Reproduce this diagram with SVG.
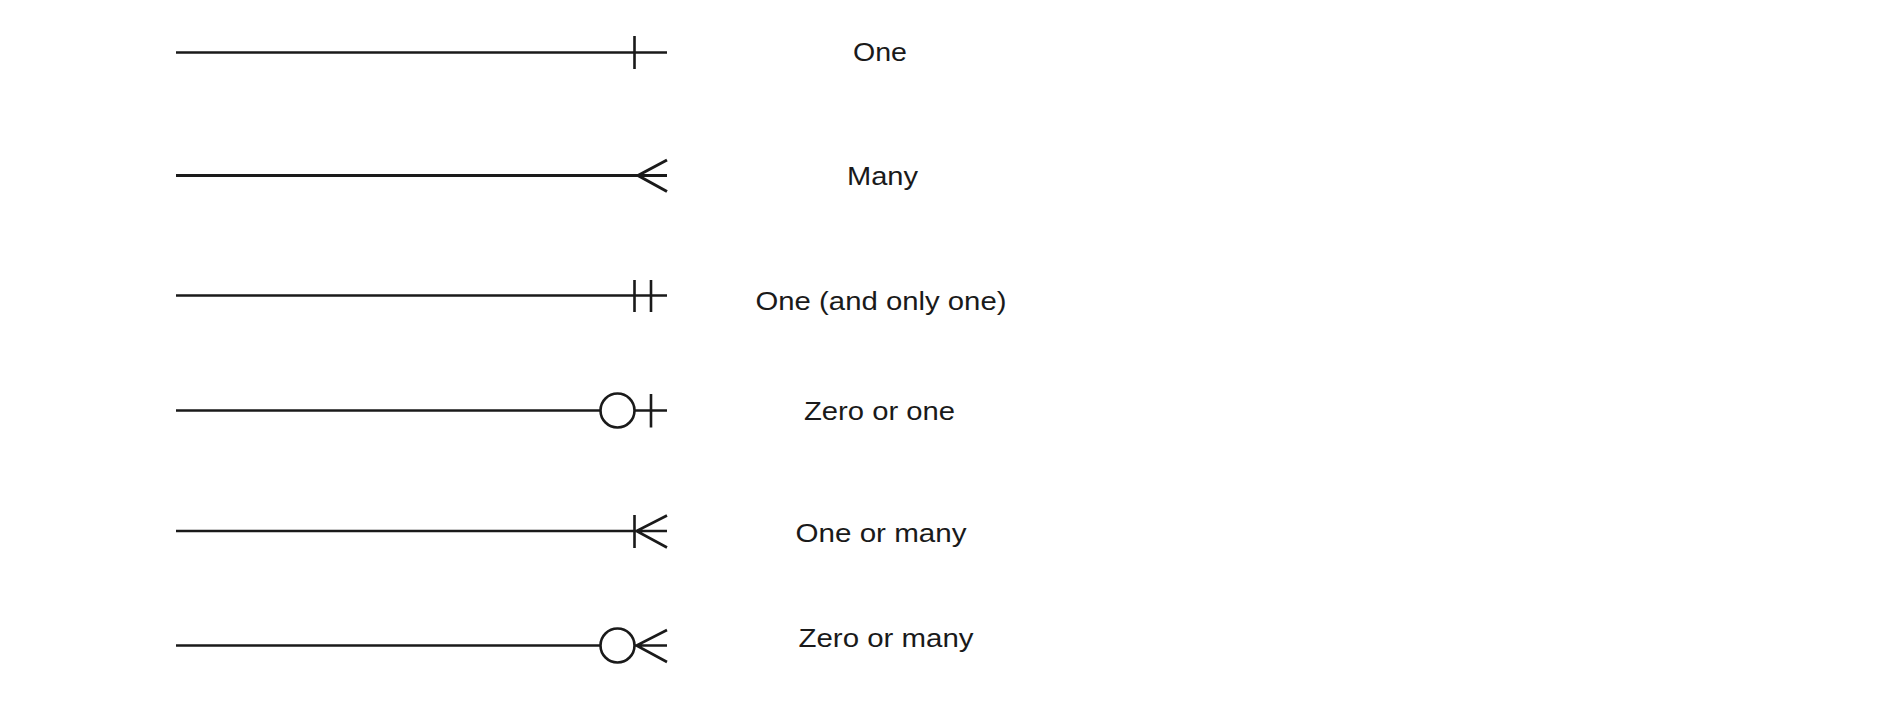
<svg xmlns="http://www.w3.org/2000/svg" width="1882" height="718" viewBox="0 0 1882 718">
<style>
.ln{stroke:#1a1a1a;stroke-width:2.6;fill:none;stroke-linecap:butt}
.lbl{font-family:"Liberation Sans",Arial,sans-serif;font-size:25.5px;fill:#1a1a1a;text-anchor:middle}
</style>
<rect width="1882" height="718" fill="#fff"/>
<g id="connectors">
<g id="one"><path class="ln" d="M176 52.5H667M634.5 36V69"/></g>
<g id="many"><path class="ln" style="stroke-width:3" d="M176 175.5H667M667 160L638 175.5L667 191.5"/></g>
<g id="one-only"><path class="ln" d="M176 295.5H667M634.5 280V312M651 280V312"/></g>
<g id="zero-one"><path class="ln" d="M176 410.5H600.5M634.5 410.5H667M651 394V427.5"/><circle class="ln" cx="617.5" cy="410.5" r="17"/></g>
<g id="one-many"><path class="ln" d="M176 531H667M634.5 515V548M667 515.5L636.5 531L667 547.5"/></g>
<g id="zero-many"><path class="ln" d="M176 645.5H600.5M634.5 645.5H667M667 630L636.5 645.5L667 662"/><circle class="ln" cx="617.5" cy="645.5" r="17"/></g>
</g>
<g id="labels">
<text class="lbl" x="880" y="61" textLength="54" lengthAdjust="spacingAndGlyphs">One</text>
<text class="lbl" x="882.5" y="185" textLength="71" lengthAdjust="spacingAndGlyphs">Many</text>
<text class="lbl" x="881" y="310" textLength="251" lengthAdjust="spacingAndGlyphs">One (and only one)</text>
<text class="lbl" x="879.5" y="420" textLength="151" lengthAdjust="spacingAndGlyphs">Zero or one</text>
<text class="lbl" x="881" y="542" textLength="171" lengthAdjust="spacingAndGlyphs">One or many</text>
<text class="lbl" x="886" y="647" textLength="175" lengthAdjust="spacingAndGlyphs">Zero or many</text>
</g>
</svg>
